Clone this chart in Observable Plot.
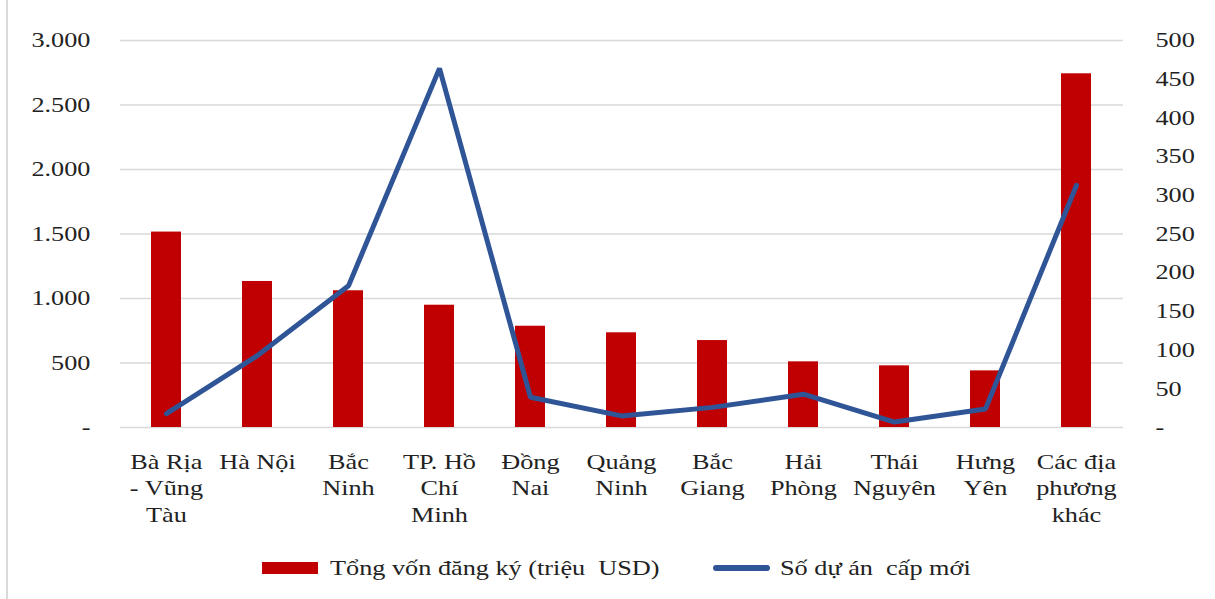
<!DOCTYPE html>
<html>
<head>
<meta charset="utf-8">
<script src="https://cdn.jsdelivr.net/npm/d3@7"></script>
<script src="https://cdn.jsdelivr.net/npm/@observablehq/plot@0.6"></script>
<style>
  body { margin: 0; background: #fff; font-family: "Liberation Serif", "Times New Roman", serif; }
  #wrap { position: relative; width: 1215px; height: 599px; overflow: hidden; }
  #frame { position: absolute; left: 6px; top: 0; width: 2px; height: 599px; background: #d9d9d9; }
  #chart { position: absolute; left: 0; top: 0; }
  .sw { position: absolute; }
  .lg { position: absolute; font-size: 21px; color: #222; white-space: pre; line-height: 1; transform: scaleX(1.25); transform-origin: left center; }
</style>
</head>
<body>
<div id="wrap">
  <div id="frame"></div>
  <div id="chart"></div>
  <div class="sw" style="left:262px; top:562px; width:56px; height:12px; background:#C00000;"></div>
  <div class="lg" style="left:330px; top:558px;">Tổng vốn đăng ký (triệu  USD)</div>
  <div class="sw" style="left:713px; top:565px; width:57px; height:6px; border-radius:3px; background:#2F5597;"></div>
  <div class="lg" style="left:780px; top:558px;">Số dự án  cấp mới</div>
</div>
<script>
const categories = ["Bà Rịa\n- Vũng\nTàu", "Hà Nội", "Bắc\nNinh", "TP. Hồ\nChí\nMinh", "Đồng\nNai", "Quảng\nNinh", "Bắc\nGiang", "Hải\nPhòng", "Thái\nNguyên", "Hưng\nYên", "Các địa\nphương\nkhác"];
const capital = [1515, 1132, 1060, 948, 785, 734, 674, 509, 478, 439, 2742];
const projects = [18, 93, 183, 464, 39, 15, 26, 43, 7, 24, 313];
const leftTicks = [0, 500, 1000, 1500, 2000, 2500, 3000];
const rightTicks = [0, 50, 100, 150, 200, 250, 300, 350, 400, 450, 500];

const leftMax = 3000, rightMax = 500, ratio = leftMax / rightMax;
const data = categories.map((c, i) => ({cat: c, capital: capital[i], projects: projects[i]}));

const fmtLeft = d => d === 0 ? "-" : d3.format(",")(d).replace(/,/g, ".");
const fmtRight = d => d === 0 ? "-" : String(d);

const chart = Plot.plot({
  width: 1215,
  height: 540,
  marginLeft: 120,
  marginRight: 92,
  marginTop: 40,
  marginBottom: 113,
  style: {fontFamily: "'Liberation Serif', 'Times New Roman', serif", fontSize: "21px", color: "#222", background: "transparent"},
  x: {domain: categories, paddingInner: 0.67, paddingOuter: 0.335},
  y: {domain: [0, leftMax]},
  marks: [
    Plot.gridY(leftTicks, {stroke: "#d9d9d9", strokeOpacity: 1, strokeWidth: 1.5}),
    Plot.barY(data, {x: "cat", y: "capital", fill: "#C00000"}),
    Plot.line(data, {x: "cat", y: d => d.projects * ratio, stroke: "#2F5597", strokeWidth: 5, strokeLinejoin: "miter", strokeLinecap: "round"}),
    Plot.axisY(leftTicks, {anchor: "left", tickSize: 0, tickPadding: 30, tickFormat: fmtLeft, fontSize: 21, label: null}),
    Plot.axisY(rightTicks.map(d => d * ratio), {anchor: "right", tickSize: 0, tickPadding: 32, tickFormat: d => fmtRight(d / ratio), fontSize: 21, label: null}),
    Plot.axisX({tickSize: 0, tickPadding: 22, fontSize: 21, lineHeight: 1.28, label: null})
  ]
});
document.getElementById("chart").appendChild(chart);

// Widen glyphs horizontally (reference text is horizontally stretched), scaling about each label's anchor.
const S = 1.25;
chart.querySelectorAll('g[aria-label$="tick label"] text').forEach(t => {
  const bb = t.getBBox();
  const anchor = getComputedStyle(t).textAnchor;
  const ax = anchor === "end" ? bb.x + bb.width : anchor === "middle" ? bb.x + bb.width / 2 : bb.x;
  const tr = t.getAttribute("transform") || "";
  t.setAttribute("transform", `${tr} translate(${ax},0) scale(${S},1) translate(${-ax},0)`.trim());
});
</script>
</body>
</html>
